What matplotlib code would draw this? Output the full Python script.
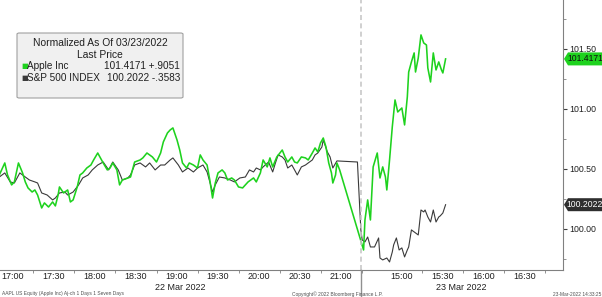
import matplotlib
matplotlib.use("Agg")
import matplotlib.pyplot as plt
from matplotlib.patches import FancyBboxPatch, Polygon

plt.rcParams['font.family'] = ['Liberation Sans', 'DejaVu Sans']

# Apple Inc, normalized, 22 Mar session
aapl_t22 = ["16:50", "16:54", "16:56", "16:59", "17:01", "17:04", "17:07", "17:09", "17:11", "17:14",
            "17:16", "17:18", "17:21", "17:23", "17:26", "17:29", "17:31", "17:33", "17:34", "17:37",
            "17:40", "17:42", "17:44", "17:47", "17:49", "17:51", "17:54", "17:57", "17:59", "18:02",
            "18:04", "18:06", "18:09", "18:11", "18:13", "18:16", "18:18", "18:20", "18:24", "18:26",
            "18:29", "18:33", "18:35", "18:38", "18:40", "18:42", "18:45", "18:48", "18:50", "18:53",
            "18:55", "18:57", "19:00", "19:02", "19:04", "19:07", "19:09", "19:12", "19:15", "19:17",
            "19:19", "19:22", "19:24", "19:26", "19:28", "19:30", "19:33", "19:35", "19:37", "19:40",
            "19:42", "19:45", "19:48", "19:50", "19:52", "19:56", "19:58", "20:01", "20:03", "20:06",
            "20:08", "20:10", "20:13", "20:17", "20:19", "20:21", "20:24", "20:26", "20:28", "20:31",
            "20:34", "20:36", "20:39", "20:41", "20:43", "20:45", "20:47", "20:49", "20:51", "20:53",
            "20:54", "20:56", "20:57", "20:59"]
aapl_v22 = [100.450, 100.550, 100.450, 100.367, 100.392, 100.550, 100.467, 100.392, 100.342, 100.308,
            100.325, 100.283, 100.175, 100.217, 100.183, 100.225, 100.192, 100.283, 100.350, 100.300,
            100.325, 100.225, 100.242, 100.350, 100.450, 100.467, 100.508, 100.533, 100.575, 100.633,
            100.592, 100.550, 100.492, 100.508, 100.550, 100.492, 100.367, 100.408, 100.425, 100.433,
            100.558, 100.575, 100.592, 100.633, 100.617, 100.600, 100.558, 100.633, 100.725, 100.800,
            100.825, 100.842, 100.742, 100.658, 100.550, 100.508, 100.550, 100.533, 100.508, 100.617,
            100.575, 100.533, 100.408, 100.258, 100.383, 100.467, 100.492, 100.467, 100.408, 100.425,
            100.408, 100.350, 100.342, 100.367, 100.392, 100.425, 100.392, 100.467, 100.575, 100.517,
            100.592, 100.517, 100.600, 100.658, 100.600, 100.558, 100.600, 100.558, 100.550, 100.600,
            100.592, 100.575, 100.633, 100.675, 100.642, 100.717, 100.758, 100.683, 100.550, 100.467,
            100.383, 100.450, 100.550, 100.492]
# Apple Inc, 23 Mar session
aapl_t23 = ["14:32", "14:33", "14:35", "14:37", "14:39", "14:42", "14:44", "14:46", "14:48", "14:49",
            "14:51", "14:53", "14:55", "14:57", "15:00", "15:02", "15:04", "15:05", "15:07", "15:09",
            "15:10", "15:12", "15:14", "15:16", "15:18", "15:19", "15:21", "15:23", "15:25", "15:27",
            "15:29", "15:30", "15:32"]
aapl_v23 = [99.825, 100.075, 100.242, 100.075, 100.517, 100.633, 100.425, 100.517, 100.433, 100.325,
            100.575, 100.850, 101.075, 100.975, 101.008, 100.867, 101.100, 101.308, 101.392, 101.467,
            101.308, 101.425, 101.617, 101.550, 101.533, 101.342, 101.225, 101.467, 101.325, 101.392,
            101.325, 101.300, 101.4171]

# S&P 500 index, normalized, 22 Mar session
spx_t22 = ["16:50", "16:54", "16:58", "17:01", "17:05", "17:09", "17:12", "17:16", "17:18", "17:21",
           "17:25", "17:29", "17:31", "17:34", "17:38", "17:40", "17:44", "17:48", "17:51", "17:55",
           "17:58", "18:02", "18:06", "18:10", "18:13", "18:17", "18:20", "18:24", "18:26", "18:29",
           "18:33", "18:37", "18:40", "18:44", "18:48", "18:51", "18:55", "18:57", "19:01", "19:04",
           "19:08", "19:12", "19:15", "19:19", "19:22", "19:24", "19:26", "19:28", "19:31", "19:35",
           "19:39", "19:42", "19:46", "19:50", "19:53", "19:56", "19:58", "20:01", "20:03", "20:07",
           "20:10", "20:12", "20:14", "20:17", "20:19", "20:21", "20:24", "20:26", "20:28", "20:31",
           "20:34", "20:36", "20:39", "20:41", "20:43", "20:46", "20:47", "20:50", "20:52", "20:54",
           "20:57", "21:12"]
spx_v22 = [100.433, 100.467, 100.392, 100.383, 100.467, 100.433, 100.408, 100.392, 100.383, 100.300,
           100.283, 100.242, 100.258, 100.300, 100.308, 100.283, 100.308, 100.367, 100.425, 100.450,
           100.492, 100.533, 100.558, 100.492, 100.558, 100.492, 100.408, 100.425, 100.450, 100.533,
           100.550, 100.517, 100.550, 100.492, 100.533, 100.533, 100.575, 100.592, 100.533, 100.475,
           100.508, 100.475, 100.508, 100.533, 100.475, 100.392, 100.308, 100.367, 100.433, 100.425,
           100.408, 100.392, 100.425, 100.433, 100.492, 100.475, 100.508, 100.492, 100.517, 100.558,
           100.475, 100.550, 100.617, 100.600, 100.575, 100.508, 100.533, 100.492, 100.450, 100.517,
           100.533, 100.550, 100.575, 100.617, 100.633, 100.683, 100.742, 100.642, 100.600, 100.508,
           100.567, 100.558]
# S&P 500 index, 23 Mar session
spx_t23 = ["14:30", "14:31", "14:33", "14:35", "14:37", "14:40", "14:43", "14:44", "14:46", "14:49",
           "14:51", "14:53", "14:54", "14:56", "14:58", "15:00", "15:02", "15:04", "15:05", "15:07",
           "15:10", "15:12", "15:14", "15:16", "15:17", "15:19", "15:21", "15:23", "15:25", "15:27",
           "15:28", "15:30", "15:32"]
spx_v23 = [99.992, 99.908, 99.892, 99.933, 99.850, 99.850, 99.925, 99.758, 99.742, 99.758,
           99.725, 99.808, 99.867, 99.925, 99.825, 99.842, 99.767, 99.825, 99.850, 99.992,
           99.967, 99.950, 100.158, 100.142, 100.158, 100.100, 100.058, 100.158, 100.058, 100.100,
           100.108, 100.133, 100.2022]

ticks22 = ["17:00", "17:30", "18:00", "18:30", "19:00", "19:30", "20:00", "20:30", "21:00"]
ticks23 = ["15:00", "15:30", "16:00", "16:30"]
yticks = [100.00, 100.50, 101.00, 101.50]

GAP = 254.5  # where 23 Mar 14:30 sits on the squeezed time axis


def mins(s):
    h, m = s.split(":")
    return int(h) * 60 + int(m)


def pos22(s):
    return mins(s) - 17 * 60


def pos23(s):
    return GAP + mins(s) - (14 * 60 + 30)


aapl_x = [pos22(t) for t in aapl_t22] + [pos23(t) for t in aapl_t23]
aapl_y = aapl_v22 + aapl_v23
spx_x = [pos22(t) for t in spx_t22] + [pos23(t) for t in spx_t23]
spx_y = spx_v22 + spx_v23

green = '#1ed21e'
dark = '#3a3a3a'
txt = '#202020'

fig = plt.figure(figsize=(6.02, 2.97), dpi=100)
ax = fig.add_axes([0, 27 / 297, 563 / 602, 270 / 297])

ax.plot(spx_x, spx_y, color=dark, lw=0.8)
ax.plot(aapl_x, aapl_y, color=green, lw=1.15)
ax.axvline(GAP, color='#c8c8c8', lw=1.2, ls=(0, (3, 2)))

ax.set_xlim(-9.5, 402.4)
ax.set_ylim(99.658, 101.908)

for s in ['top', 'left']:
    ax.spines[s].set_visible(False)
for s in ['right', 'bottom']:
    ax.spines[s].set_color('#808080')
    ax.spines[s].set_linewidth(0.8)

xt = [pos22(t) for t in ticks22] + [pos23(t) for t in ticks23]
ax.set_xticks(xt)
ax.set_xticklabels(ticks22 + ticks23, fontsize=6.5, color=txt)
ax.set_xticks([x + 15 for x in xt], minor=True)
ax.tick_params(axis='x', which='major', length=0, pad=1.5)
ax.tick_params(axis='x', which='minor', length=2, color='#808080')

ax.yaxis.tick_right()
ax.set_yticks(yticks)
ax.set_yticklabels(["%.2f" % v for v in yticks], fontsize=6.3, color=txt)
ax.set_yticks([v + 0.25 for v in [99.5] + yticks], minor=True)
ax.tick_params(axis='y', which='major', length=3, color='#404040', pad=1.5)
ax.tick_params(axis='y', which='minor', length=2, color='#808080')

# separator below the axis between the two days
xs = ax.transData.transform((GAP, 0))[0] / fig.dpi / 6.02
fig.add_artist(plt.Line2D([xs, xs], [0, 27 / 297], color='#909090', lw=1))

# date labels
fig.text(180 / 602, 1 - 287 / 297, "22 Mar 2022", fontsize=6.5, ha='center', va='center', color=txt)
fig.text(461 / 602, 1 - 287 / 297, "23 Mar 2022", fontsize=6.5, ha='center', va='center', color=txt)

# footer
fig.text(2 / 602, 1 - 294 / 297, "AAPL US Equity (Apple Inc) Aj-ch 1 Days 1 Seven Days",
         fontsize=3.5, ha='left', va='center', color='#505050')
fig.text(292 / 602, 1 - 294 / 297, "Copyright\u00a9 2022 Bloomberg Finance L.P.",
         fontsize=3.5, ha='left', va='center', color='#505050')
fig.text(601 / 602, 1 - 294 / 297, "23-Mar-2022 14:33:25",
         fontsize=3.5, ha='right', va='center', color='#505050')

# legend box
box = FancyBboxPatch((17 / 602, 1 - 98 / 297), 166 / 602, 65 / 297,
                     boxstyle="round,pad=0,rounding_size=0.004", transform=fig.transFigure,
                     fc='#f0f0f0', ec='#a0a0a0', lw=0.8)
fig.add_artist(box)
fig.text(100 / 602, 1 - 43 / 297, "Normalized As Of 03/23/2022", fontsize=7.4, ha='center', va='center', color=txt)
fig.text(100 / 602, 1 - 55 / 297, "Last Price", fontsize=7.4, ha='center', va='center', color=txt)
rows = [("Apple Inc", "101.4171 +.9051", green, 66), ("S&P 500 INDEX", "100.2022 -.3583", dark, 78)]
for name, val, c, yy in rows:
    fig.text(21 / 602, 1 - yy / 297, "\u25a0", fontsize=5, ha='left', va='center', color=c,
             family='DejaVu Sans')
    fig.text(27 / 602, 1 - yy / 297, name, fontsize=7.2, ha='left', va='center', color=txt)
    fig.text(180 / 602, 1 - yy / 297, val, fontsize=7.2, ha='right', va='center', color=txt)

# last value tags on the right axis
for v, fc, tc in [(aapl_y[-1], green, '#101010'), (spx_y[-1], '#2e2e2e', 'white')]:
    yd = ax.transData.transform((0, v))[1] / fig.dpi / 2.97
    h = 6.5 / 297
    x0 = 564 / 602
    x1 = 568 / 602
    poly = Polygon([(x0, yd), (x1, yd + h), (1, yd + h), (1, yd - h), (x1, yd - h)],
                   closed=True, transform=fig.transFigure, fc=fc, ec='none')
    fig.add_artist(poly)
    fig.text(585 / 602, yd, "%.4f" % v, fontsize=6.2, ha='center', va='center', color=tc)

fig.savefig("out.png", dpi=100)
